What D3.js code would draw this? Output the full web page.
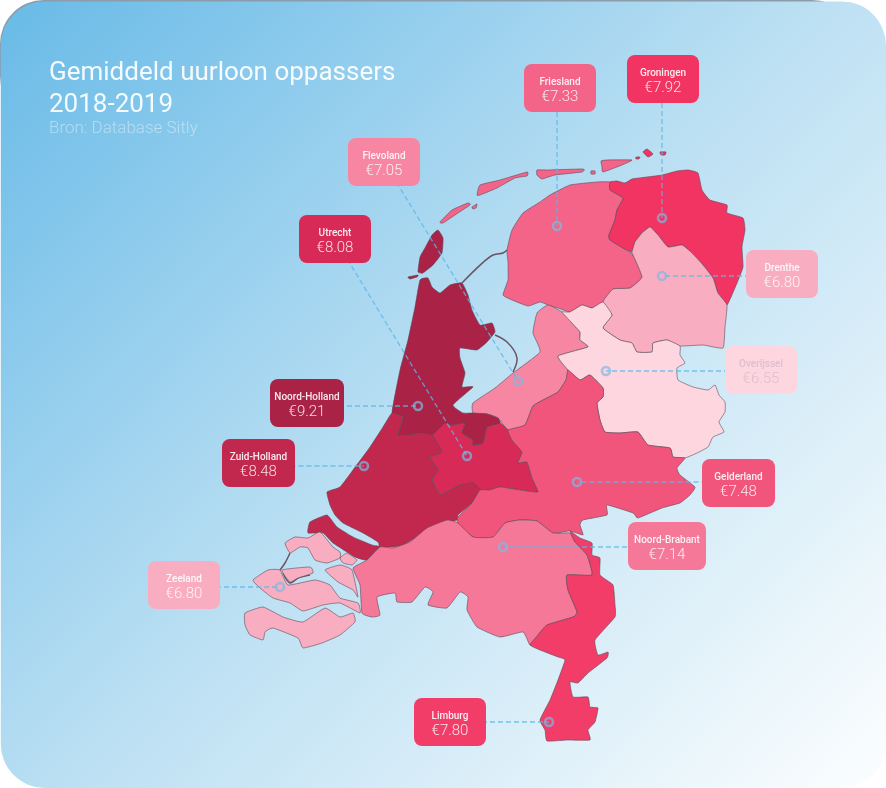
<!DOCTYPE html>
<html>
<head>
<meta charset="utf-8">
<script src="https://cdnjs.cloudflare.com/ajax/libs/d3/7.8.5/d3.min.js"></script>
<style>
  html, body { margin: 0; padding: 0; background: #fff; overflow: hidden; }
  svg { display: block; font-family: Roboto, sans-serif; filter: blur(0.35px); }
</style>
</head>
<body>
<div id="map"></div>
<script>
const width = 886, height = 788;

const provinces = ['Friesland', 'Groningen', 'Flevoland', 'Utrecht', 'Drenthe', 'Overijssel',
    'Noord-Holland', 'Zuid-Holland', 'Gelderland', 'Noord-Brabant', 'Zeeland', 'Limburg'];
const wages = [7.33, 7.92, 7.05, 8.08, 6.80, 6.55, 9.21, 8.48, 7.48, 7.14, 6.80, 7.80];

const wageStops = [6.55, 6.80, 7.14, 7.48, 7.92, 8.08, 8.48, 9.21];
const wageColors = ['#fdd6e0', '#f9adc1', '#f67898', '#f2557c', '#f23462', '#d82a56', '#c2274d', '#aa2245'];

// label box top-left per province, same order as provinces
const boxX = [524, 627, 348, 299, 746, 725, 270, 222, 702, 628, 148, 414];
const boxY = [64, 55, 138, 215, 250, 346, 379, 439, 459, 522, 561, 698];
const boxW = [72, 72, 72, 72, 72, 72, 74, 73, 73, 78, 72, 72];
// ring on the map per province
const ringX = [557, 662, 518, 467, 662, 606, 418, 364, 577, 503, 280, 549];
const ringY = [226, 218, 381, 456, 276, 371, 406, 466, 482, 547, 587, 722];

// outlines, map coordinates are screen pixels
const shapes = {
    'Friesland': [
        [[610,182],[597,182],[570,185],[550,195],[540,202],[523,213],[512,230],[507,250],[508,262],[508,280],[503,295],[512,300],[528,306],[540,302],[548,305],[558,308],[570,312],[582,305],[592,308],[603,302],[613,289],[630,288],[642,277],[633,255],[623,248],[610,240],[609,235],[615,220],[617,210],[623,198],[610,190]],
        [[477,195],[480,185],[500,180],[527,172],[527,176],[515,178],[497,188],[480,195]],
        [[537,170],[547,170],[583,169],[582,172],[555,175],[542,179],[537,175]],
        [[601,161],[607,160],[632,160],[622,165],[603,172],[602,167]],
        [[440,222],[452,210],[468,203],[470,205],[455,215],[443,223]],
        [[472,207],[477,204],[476,208],[473,209]],
        [[591,171],[595,171],[595,174],[591,174]]
    ],
    'Groningen': [
        [[610,182],[617,181],[625,183],[632,179],[647,177],[662,175],[677,171],[688,170],[698,173],[702,190],[710,200],[727,205],[727,213],[743,218],[745,230],[742,247],[743,267],[737,283],[727,305],[718,293],[713,278],[703,265],[692,253],[682,245],[668,247],[658,235],[650,227],[642,233],[635,242],[632,252],[623,248],[610,240],[609,235],[615,220],[617,210],[623,198],[610,190]],
        [[643,152],[647,149],[653,154],[648,157]],
        [[660,152],[666,152],[665,155],[661,155]],
        [[636,157],[640,157],[639,159],[636,159]]
    ],
    'Drenthe': [
        [[650,227],[658,235],[668,247],[682,245],[692,253],[703,265],[713,278],[718,293],[727,305],[725,327],[723,348],[703,345],[680,346],[667,340],[653,343],[652,352],[637,352],[632,343],[620,340],[603,328],[612,315],[603,302],[613,289],[630,288],[642,277],[633,255],[632,252],[635,242],[642,233]]
    ],
    'Overijssel': [
        [[562,312],[570,312],[582,305],[592,308],[603,302],[612,315],[603,328],[620,340],[632,343],[637,352],[652,352],[653,343],[667,340],[680,346],[680,355],[685,363],[677,368],[678,380],[693,387],[708,390],[715,385],[719,395],[725,402],[725,412],[719,422],[724,432],[713,437],[708,447],[697,453],[685,458],[673,457],[670,448],[648,445],[638,432],[620,433],[605,432],[600,420],[597,403],[603,397],[603,388],[590,375],[580,380],[568,370],[558,356],[588,347],[580,340],[580,332],[571,322]]
    ],
    'Flevoland': [
        [[548,305],[562,312],[571,322],[580,332],[580,340],[588,347],[558,356],[568,370],[566,380],[558,392],[547,398],[533,406],[525,425],[508,430],[498,418],[487,414],[473,413],[473,403],[495,388],[513,373],[540,352],[533,333],[537,313]]
    ],
    'Gelderland': [
        [[568,370],[580,380],[590,375],[603,388],[603,397],[597,403],[600,420],[605,432],[620,433],[638,432],[648,445],[670,448],[673,457],[685,458],[677,468],[680,475],[695,487],[690,495],[680,503],[662,508],[638,518],[633,513],[607,505],[607,515],[583,520],[580,525],[583,535],[570,531],[553,533],[537,521],[520,520],[505,523],[493,537],[473,537],[458,523],[458,517],[472,503],[480,490],[490,490],[500,487],[520,490],[538,492],[532,478],[527,462],[518,463],[522,452],[512,440],[508,430],[525,425],[533,406],[547,398],[558,392],[566,380]]
    ],
    'Utrecht': [
        [[432,435],[445,423],[452,425],[465,423],[462,433],[473,440],[473,445],[483,443],[487,427],[500,423],[508,430],[512,440],[522,452],[518,463],[527,462],[532,478],[538,492],[520,490],[500,487],[490,490],[480,490],[473,483],[460,485],[440,495],[432,480],[438,470],[430,457],[442,452]]
    ],
    'Noord-Holland': [
        [[420,280],[428,278],[432,287],[440,293],[450,285],[462,283],[468,295],[472,310],[480,325],[492,323],[495,332],[487,342],[477,350],[460,348],[460,358],[465,373],[462,387],[473,387],[453,405],[463,413],[473,413],[487,414],[498,418],[500,423],[487,427],[483,443],[473,445],[473,440],[462,433],[465,423],[452,425],[445,423],[432,435],[420,433],[410,435],[398,435],[403,417],[392,413],[400,370],[408,340],[415,307]],
        [[438,230],[443,238],[442,253],[433,265],[423,273],[418,272],[420,257],[425,248],[432,235]],
        [[408,277],[418,275],[417,277],[410,279]]
    ],
    'Zuid-Holland': [
        [[392,413],[403,417],[398,435],[410,435],[420,433],[432,435],[442,452],[430,457],[438,470],[432,480],[440,495],[460,485],[473,483],[480,490],[472,503],[458,515],[457,520],[430,528],[417,537],[403,545],[393,547],[380,547],[378,542],[363,533],[343,523],[335,515],[330,505],[327,492],[340,487],[353,470],[370,447],[383,427]],
        [[308,533],[310,522],[327,515],[337,527],[353,537],[372,545],[380,547],[367,560],[355,557],[333,543],[323,533]]
    ],
    'Noord-Brabant': [
        [[380,547],[393,548],[410,542],[427,528],[447,520],[458,523],[473,537],[493,537],[505,523],[520,520],[537,521],[553,533],[570,533],[575,542],[587,555],[592,575],[567,575],[568,590],[577,612],[573,617],[547,625],[538,635],[530,645],[523,632],[500,637],[477,627],[467,610],[468,597],[460,592],[447,608],[428,605],[433,592],[425,587],[412,602],[397,602],[395,593],[377,597],[380,615],[372,617],[362,613],[360,585],[353,568],[367,560]]
    ],
    'Limburg': [
        [[570,531],[580,538],[592,543],[592,555],[600,558],[600,575],[613,585],[615,605],[615,617],[595,640],[598,655],[608,652],[607,658],[588,673],[578,683],[570,682],[573,697],[588,697],[590,707],[598,708],[595,722],[588,730],[590,740],[567,740],[547,741],[545,730],[540,720],[550,700],[558,680],[565,660],[558,657],[540,650],[530,645],[538,635],[547,625],[573,617],[577,612],[568,590],[567,575],[592,575],[587,555],[575,542]]
    ],
    'Zeeland': [
        [[285,543],[295,537],[308,538],[320,532],[333,547],[340,552],[340,558],[327,563],[315,560],[308,548],[300,547],[290,553]],
        [[340,558],[347,553],[357,560],[352,565],[343,563]],
        [[325,570],[340,565],[352,570],[358,597],[353,590],[338,582]],
        [[253,580],[268,570],[280,570],[288,585],[315,580],[330,585],[340,598],[358,603],[360,613],[340,603],[323,605],[303,611],[290,603],[273,598],[260,588]],
        [[282,570],[310,567],[313,573],[298,578],[290,582]],
        [[245,613],[263,607],[283,617],[303,622],[325,608],[340,617],[353,613],[355,622],[340,635],[322,643],[303,648],[298,638],[273,628],[265,632],[263,640],[250,635],[245,625]]
    ]
};
// dikes and barriers between the islands
const dikes = [
    [[462,283],[493,255],[503,253],[507,250]],
    [[495,335],[507,342],[517,358],[513,372]],
    [[290,553],[285,563],[280,570]],
    [[283,573],[290,583],[298,578],[310,575]]
];

const wageColor = d3.scaleLinear().domain(wageStops).range(wageColors);
const euro = d3.format('.2f');
const ringPath = d3.line().curve(d3.curveCardinalClosed.tension(0.6));
const dikePath = d3.line().curve(d3.curveCatmullRom);

let svg = d3.select('#map').append('svg')
    .attr('width', width)
    .attr('height', height);

let defs = svg.append('defs');
let grad = defs.append('linearGradient')
    .attr('id', 'sky')
    .attr('gradientUnits', 'userSpaceOnUse')
    .attr('x1', 40).attr('y1', 0)
    .attr('x2', 860).attr('y2', 788);
grad.append('stop').attr('offset', 0).attr('stop-color', '#6cbce8');
grad.append('stop').attr('offset', 0.5).attr('stop-color', '#bce0f3');
grad.append('stop').attr('offset', 1).attr('stop-color', '#fafdfe');

// thin grey edge along the top of the card only
svg.append('rect')
    .attr('width', width - 30).attr('height', 120)
    .attr('rx', 44).attr('ry', 44)
    .attr('fill', '#8b9cab');
svg.append('rect')
    .attr('x', 0.8).attr('y', 1.5)
    .attr('width', width - 0.8).attr('height', height - 1.5)
    .attr('rx', 44).attr('ry', 44)
    .attr('fill', 'url(#sky)');

svg.selectAll('.dike')
    .data(dikes)
    .enter().append('path')
    .attr('class', 'dike')
    .attr('d', dikePath)
    .attr('fill', 'none')
    .attr('stroke', '#6a5564')
    .attr('stroke-width', 1.5);

svg.selectAll('.province')
    .data(provinces)
    .enter().append('path')
    .attr('class', 'province')
    .attr('d', d => shapes[d].map(ringPath).join(''))
    .attr('fill', (d, i) => wageColor(wages[i]))
    .attr('stroke', '#5b4a58')
    .attr('stroke-opacity', 0.75)
    .attr('stroke-width', 0.8)
    .attr('stroke-linejoin', 'round');

// horizontal and vertical leaders keep the ring's own line, the others leave the box centre
function leaderX(i) {
    return ringX[i] > boxX[i] && ringX[i] < boxX[i] + boxW[i] ? ringX[i] : boxX[i] + boxW[i] / 2;
}
function leaderY(i) {
    return ringY[i] > boxY[i] && ringY[i] < boxY[i] + 48 ? ringY[i] : boxY[i] + 24;
}

svg.selectAll('.leader')
    .data(provinces)
    .enter().append('line')
    .attr('class', 'leader')
    .attr('x1', (d, i) => leaderX(i))
    .attr('y1', (d, i) => leaderY(i))
    .attr('x2', (d, i) => ringX[i])
    .attr('y2', (d, i) => ringY[i])
    .attr('stroke', '#5ab6ea')
    .attr('stroke-opacity', 0.8)
    .attr('stroke-width', 1.3)
    .attr('stroke-dasharray', '5 3');

svg.selectAll('.ring')
    .data(provinces)
    .enter().append('circle')
    .attr('class', 'ring')
    .attr('cx', (d, i) => ringX[i])
    .attr('cy', (d, i) => ringY[i])
    .attr('r', 4)
    .attr('fill', 'none')
    .attr('stroke', '#7db9e2')
    .attr('stroke-opacity', 0.7)
    .attr('stroke-width', 2.6);

let labels = svg.selectAll('.label')
    .data(provinces)
    .enter().append('g')
    .attr('class', 'label')
    .attr('transform', (d, i) => `translate(${boxX[i]},${boxY[i]})`);

labels.append('rect')
    .attr('width', (d, i) => boxW[i])
    .attr('height', 48)
    .attr('rx', 8)
    .attr('fill', (d, i) => wageColor(wages[i]));

labels.append('text')
    .text(d => d)
    .attr('x', (d, i) => boxW[i] / 2)
    .attr('y', 20.5)
    .style('text-anchor', 'middle')
    .style('font-size', '10px')
    .style('font-weight', 500)
    .style('fill', d => d === 'Overijssel' ? '#d9bccb' : '#fff')
    .style('fill-opacity', 0.9);

labels.append('text')
    .text((d, i) => '€' + euro(wages[i]))
    .attr('x', (d, i) => boxW[i] / 2)
    .attr('y', 37)
    .style('text-anchor', 'middle')
    .style('font-size', '15px')
    .style('font-weight', 300)
    .style('fill', d => d === 'Overijssel' ? '#d9bccb' : '#fff')
    .style('fill-opacity', 0.85);

svg.append('text')
    .text('Gemiddeld uurloon oppassers')
    .attr('x', 49).attr('y', 80)
    .style('font-size', '26px')
    .style('font-weight', 400)
    .style('fill', '#fff')
    .style('fill-opacity', 0.92);
svg.append('text')
    .text('2018-2019')
    .attr('x', 49).attr('y', 112)
    .style('font-size', '26px')
    .style('font-weight', 400)
    .style('fill', '#fff')
    .style('fill-opacity', 0.92);
svg.append('text')
    .text('Bron: Database Sitly')
    .attr('x', 49).attr('y', 133)
    .style('font-size', '17px')
    .style('font-weight', 300)
    .style('fill', '#fff')
    .style('fill-opacity', 0.42);
</script>
</body>
</html>
